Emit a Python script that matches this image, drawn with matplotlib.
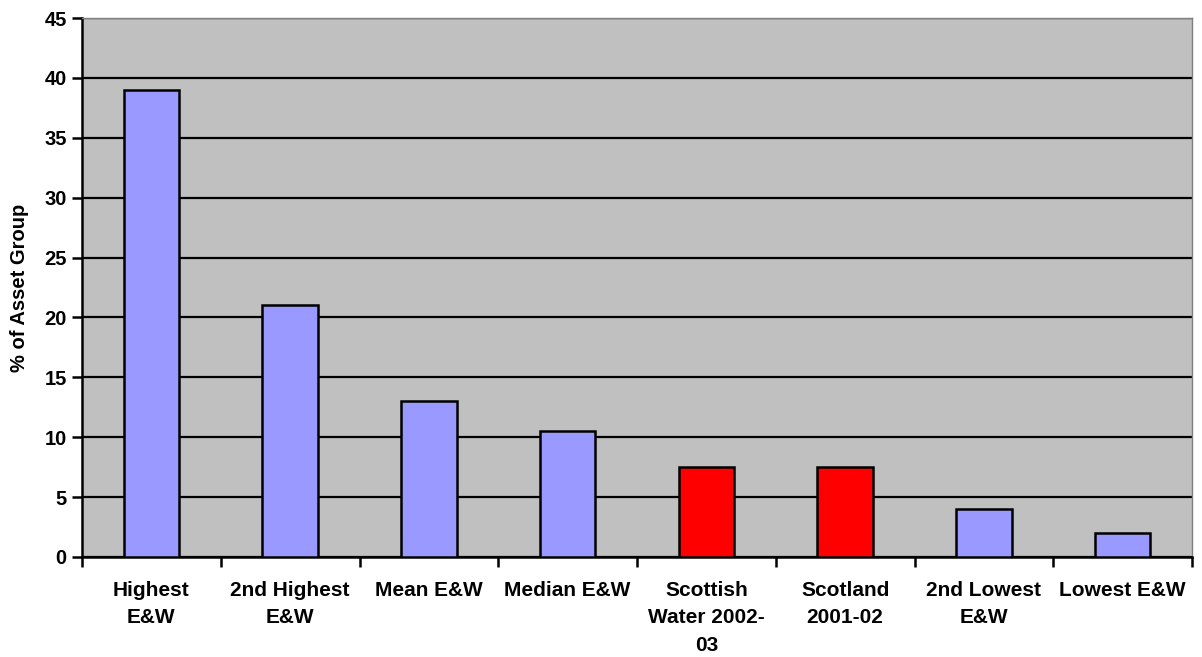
import matplotlib
matplotlib.use("Agg")
import matplotlib.pyplot as plt
import numpy as np

categories = ["Highest\nE&W", "2nd Highest\nE&W", "Mean E&W", "Median E&W",
              "Scottish\nWater 2002-\n03", "Scotland\n2001-02", "2nd Lowest\nE&W", "Lowest E&W"]
values = [39, 21, 13, 10.5, 7.5, 7.5, 4, 2]
colors = ["#9999FF", "#9999FF", "#9999FF", "#9999FF", "#FF0000", "#FF0000", "#9999FF", "#9999FF"]
yticks = [0, 5, 10, 15, 20, 25, 30, 35, 40, 45]

plt.rcParams['font.family'] = ['Liberation Sans', 'DejaVu Sans']
plt.rcParams['font.weight'] = 'bold'

fig = plt.figure(figsize=(12.02, 6.57), dpi=100)
ax = fig.add_axes([82/1202, 100/657, 1110/1202, 539/657])
ax.set_facecolor("#C0C0C0")

x = np.arange(len(categories))
ax.bar(x, values, width=0.4, color=colors, edgecolor="black", linewidth=1.8, zorder=3)

ax.set_xlim(-0.5, len(categories) - 0.5)
ax.set_ylim(0, 45)
ax.set_yticks(yticks)
ax.set_yticklabels([str(t) for t in yticks], fontsize=14.5, fontweight='bold')
ax.yaxis.grid(True, color="black", linewidth=1.6, zorder=1)
ax.set_axisbelow(True)

# category boundaries carry the tick marks; labels sit at centres
ax.set_xticks(np.arange(len(categories) + 1) - 0.5)
ax.set_xticklabels([])
ax.set_xticks(x, minor=True)
ax.set_xticklabels(categories, minor=True, fontsize=15, fontweight='bold',
                   linespacing=1.57, va='top')
ax.tick_params(axis='x', which='minor', length=0, pad=17)
ax.tick_params(axis='x', which='major', length=7, width=1.8, direction='out')
ax.tick_params(axis='y', length=7, width=1.8, direction='out', pad=4)

for side in ["top", "right"]:
    ax.spines[side].set_color("#808080")
    ax.spines[side].set_linewidth(1.0)
for side in ["left", "bottom"]:
    ax.spines[side].set_color("black")
    ax.spines[side].set_linewidth(1.8)

ax.set_ylabel("% of Asset Group", fontsize=14.5, fontweight='bold', labelpad=11)

fig.savefig("out.png", dpi=100)
